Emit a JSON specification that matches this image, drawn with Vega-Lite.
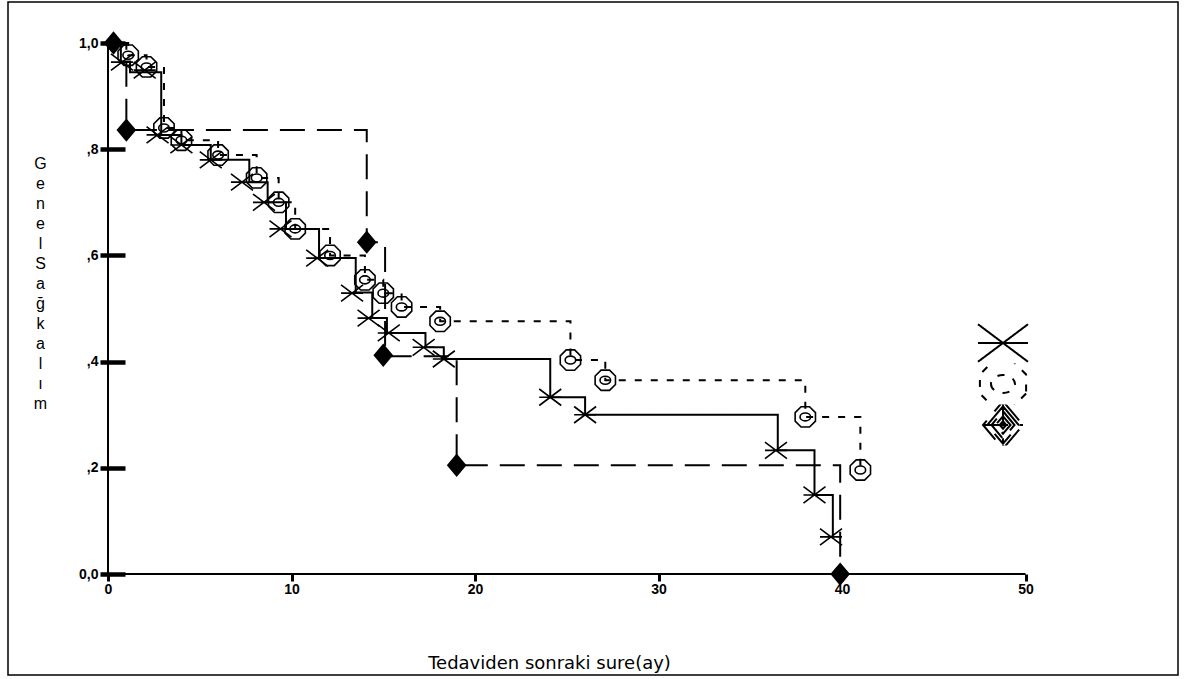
{
  "$schema": "https://vega.github.io/schema/vega-lite/v6.json",
  "width": 1170,
  "height": 673,
  "autosize": {"type": "none"},
  "padding": {"left": 8, "top": 2, "right": 6, "bottom": 4},
  "background": "white",
  "config": {"view": {"stroke": "black", "strokeWidth": 1.5}, "axis": {"grid": false}},
  "datasets": {
    "axisLines": [
      {"t": 0, "t2": 50, "s": 0, "s2": 0},
      {"t": 0, "t2": 0, "s": 0, "s2": 1.0}
    ],
    "curves": [
      {"group": "Tüm olgular", "t": 0, "s": 1.0},
      {"group": "Tüm olgular", "t": 0.7, "s": 0.965},
      {"group": "Tüm olgular", "t": 1.2, "s": 0.945},
      {"group": "Tüm olgular", "t": 2.9, "s": 0.827},
      {"group": "Tüm olgular", "t": 4.0, "s": 0.808},
      {"group": "Tüm olgular", "t": 5.6, "s": 0.78},
      {"group": "Tüm olgular", "t": 7.7, "s": 0.738},
      {"group": "Tüm olgular", "t": 8.7, "s": 0.70},
      {"group": "Tüm olgular", "t": 9.7, "s": 0.65},
      {"group": "Tüm olgular", "t": 11.5, "s": 0.595},
      {"group": "Tüm olgular", "t": 13.5, "s": 0.53},
      {"group": "Tüm olgular", "t": 14.4, "s": 0.482},
      {"group": "Tüm olgular", "t": 15.2, "s": 0.454},
      {"group": "Tüm olgular", "t": 17.3, "s": 0.427},
      {"group": "Tüm olgular", "t": 18.3, "s": 0.405},
      {"group": "Tüm olgular", "t": 24.1, "s": 0.333},
      {"group": "Tüm olgular", "t": 26.0, "s": 0.30},
      {"group": "Tüm olgular", "t": 36.5, "s": 0.233},
      {"group": "Tüm olgular", "t": 38.5, "s": 0.149},
      {"group": "Tüm olgular", "t": 39.5, "s": 0.07},
      {"group": "T>5 cm", "t": 0, "s": 1.0},
      {"group": "T>5 cm", "t": 1.1, "s": 0.977},
      {"group": "T>5 cm", "t": 2.1, "s": 0.955},
      {"group": "T>5 cm", "t": 3.05, "s": 0.84},
      {"group": "T>5 cm", "t": 4.0, "s": 0.817},
      {"group": "T>5 cm", "t": 6.0, "s": 0.789},
      {"group": "T>5 cm", "t": 8.1, "s": 0.746},
      {"group": "T>5 cm", "t": 9.3, "s": 0.70},
      {"group": "T>5 cm", "t": 10.2, "s": 0.65},
      {"group": "T>5 cm", "t": 12.1, "s": 0.60},
      {"group": "T>5 cm", "t": 14.0, "s": 0.554},
      {"group": "T>5 cm", "t": 15.0, "s": 0.529},
      {"group": "T>5 cm", "t": 16.0, "s": 0.503},
      {"group": "T>5 cm", "t": 18.1, "s": 0.476},
      {"group": "T>5 cm", "t": 25.2, "s": 0.403},
      {"group": "T>5 cm", "t": 27.1, "s": 0.365},
      {"group": "T>5 cm", "t": 38.0, "s": 0.296},
      {"group": "T>5 cm", "t": 41.0, "s": 0.196},
      {"group": "T<5 cm", "t": 0, "s": 1.0},
      {"group": "T<5 cm", "t": 1.0, "s": 0.836},
      {"group": "T<5 cm", "t": 14.1, "s": 0.625},
      {"group": "T<5 cm", "t": 15.1, "s": 0.41},
      {"group": "T<5 cm", "t": 19.0, "s": 0.205},
      {"group": "T<5 cm", "t": 39.9, "s": 0.0}
    ],
    "markers": [
      {"series": "Tüm olgular", "t": 0.76, "s": 0.964},
      {"series": "Tüm olgular", "t": 2.0, "s": 0.949},
      {"series": "Tüm olgular", "t": 2.7, "s": 0.827},
      {"series": "Tüm olgular", "t": 4.0, "s": 0.808},
      {"series": "Tüm olgular", "t": 5.6, "s": 0.78},
      {"series": "Tüm olgular", "t": 7.3, "s": 0.738},
      {"series": "Tüm olgular", "t": 8.5, "s": 0.70},
      {"series": "Tüm olgular", "t": 9.4, "s": 0.65},
      {"series": "Tüm olgular", "t": 11.4, "s": 0.595},
      {"series": "Tüm olgular", "t": 13.3, "s": 0.529},
      {"series": "Tüm olgular", "t": 14.2, "s": 0.482},
      {"series": "Tüm olgular", "t": 15.3, "s": 0.454},
      {"series": "Tüm olgular", "t": 17.2, "s": 0.427},
      {"series": "Tüm olgular", "t": 18.3, "s": 0.405},
      {"series": "Tüm olgular", "t": 24.1, "s": 0.333},
      {"series": "Tüm olgular", "t": 26.0, "s": 0.30},
      {"series": "Tüm olgular", "t": 36.4, "s": 0.233},
      {"series": "Tüm olgular", "t": 38.5, "s": 0.149},
      {"series": "Tüm olgular", "t": 39.4, "s": 0.07},
      {"series": "T>5 cm", "t": 1.1, "s": 0.977},
      {"series": "T>5 cm", "t": 2.1, "s": 0.955},
      {"series": "T>5 cm", "t": 3.05, "s": 0.84},
      {"series": "T>5 cm", "t": 4.0, "s": 0.817},
      {"series": "T>5 cm", "t": 6.0, "s": 0.789},
      {"series": "T>5 cm", "t": 8.1, "s": 0.746},
      {"series": "T>5 cm", "t": 9.3, "s": 0.70},
      {"series": "T>5 cm", "t": 10.2, "s": 0.65},
      {"series": "T>5 cm", "t": 12.1, "s": 0.60},
      {"series": "T>5 cm", "t": 14.0, "s": 0.554},
      {"series": "T>5 cm", "t": 15.0, "s": 0.529},
      {"series": "T>5 cm", "t": 16.0, "s": 0.503},
      {"series": "T>5 cm", "t": 18.1, "s": 0.476},
      {"series": "T>5 cm", "t": 25.2, "s": 0.403},
      {"series": "T>5 cm", "t": 27.1, "s": 0.365},
      {"series": "T>5 cm", "t": 38.0, "s": 0.296},
      {"series": "T>5 cm", "t": 41.0, "s": 0.196},
      {"series": "T<5 cm", "t": 0.3, "s": 1.0},
      {"series": "T<5 cm", "t": 1.0, "s": 0.836},
      {"series": "T<5 cm", "t": 14.1, "s": 0.625},
      {"series": "T<5 cm", "t": 15.0, "s": 0.412},
      {"series": "T<5 cm", "t": 19.0, "s": 0.205},
      {"series": "T<5 cm", "t": 39.9, "s": 0.0}
    ]
  },
  "encoding": {
    "x": {
      "field": "t", "type": "quantitative",
      "scale": {"domain": [-5.45, 58.31], "nice": false, "zero": false},
      "axis": {
        "values": [0, 10, 20, 30, 40, 50],
        "offset": -101,
        "domain": false,
        "tickSize": 7, "tickWidth": 3, "tickColor": "black",
        "labelFont": "Liberation Sans", "labelFontWeight": "bold", "labelFontSize": 14, "labelColor": "black", "labelPadding": 1,
        "title": "Tedaviden sonraki sure(ay)",
        "titleX": 541, "titleY": 89, "titleAlign": "center", "titleBaseline": "middle",
        "titleFont": "DejaVu Sans", "titleFontSize": 18, "titleFontWeight": "normal", "titleColor": "black"
      }
    },
    "y": {
      "field": "s", "type": "quantitative",
      "scale": {"domain": [-0.19, 1.0772], "nice": false, "zero": false},
      "axis": {
        "values": [0, 0.2, 0.4, 0.6, 0.8, 1],
        "labelExpr": "datum.value == 0 ? '0,0' : datum.value == 1 ? '1,0' : ',' + round(datum.value * 10)",
        "offset": -117,
        "domain": false,
        "tickSize": 25, "tickWidth": 4.5, "tickColor": "black",
        "labelFont": "Liberation Sans", "labelFontWeight": "bold", "labelFontSize": 14, "labelColor": "black", "labelPadding": 2,
        "title": ["G", "e", "n", "e", "l", " ", " ", "S", "a", "ğ", "k", "a", "l", "ı", "m"],
        "titleAngle": 0, "titleX": -85, "titleY": 161, "titleAlign": "center", "titleBaseline": "middle",
        "titleLineHeight": 20,
        "titleFont": "Liberation Sans", "titleFontSize": 16, "titleFontWeight": "normal", "titleColor": "black"
      }
    }
  },
  "layer": [
    {
      "data": {"name": "axisLines"},
      "mark": {"type": "rule", "color": "black", "strokeWidth": 2},
      "encoding": {
        "x2": {"field": "t2"},
        "y2": {"field": "s2"}
      }
    },
    {
      "data": {"name": "curves"},
      "mark": {"type": "line", "interpolate": "step-after", "color": "black", "strokeWidth": 2},
      "encoding": {
        "detail": {"field": "group", "type": "nominal"},
        "strokeDash": {
          "field": "group", "type": "nominal",
          "scale": {"domain": ["Tüm olgular", "T>5 cm", "T<5 cm"], "range": [[1, 0], [7, 9], [25, 12]]},
          "legend": {
            "orient": "none", "legendX": 969, "legendY": 320.5,
            "title": null, "padding": 0,
            "symbolType": "stroke", "symbolSize": 2500, "symbolStrokeWidth": 2, "symbolStrokeColor": "black",
            "labelFontSize": 22, "labelOpacity": 0, "labelOffset": 20,
            "clipHeight": 41, "rowPadding": 0
          }
        }
      }
    },
    {
      "data": {"name": "markers"},
      "transform": [{"filter": "datum.series !== 'T<5 cm'"}],
      "mark": {"type": "point", "filled": false, "stroke": "black", "strokeWidth": 1.6, "size": 484, "opacity": 1},
      "encoding": {
        "shape": {
          "field": "series", "type": "nominal",
          "scale": {
            "domain": ["Tüm olgular", "T>5 cm", "T<5 cm"],
            "range": [
              "M-1,-0.75L1,0.75M-1,0.75L1,-0.75M-1,0L1,0",
              "M0.924,0.383L0.383,0.924L-0.383,0.924L-0.924,0.383L-0.924,-0.383L-0.383,-0.924L0.383,-0.924L0.924,-0.383ZM-0.48,0A0.48,0.36 0 1,0 0.48,0A0.48,0.36 0 1,0 -0.48,0Z",
              "M0,-0.95L0.8,0L0,0.95L-0.8,0ZM0,-0.75L0.63,0L0,0.75L-0.63,0ZM0,-0.55L0.46,0L0,0.55L-0.46,0ZM0,-0.35L0.3,0L0,0.35L-0.3,0ZM0,-0.15L0.13,0L0,0.15L-0.13,0ZM0,-0.95L0,0.95M-0.8,0L0.8,0"
            ]
          },
          "legend": {
            "orient": "none", "legendX": 981, "legendY": 340.5,
            "title": null, "padding": 0,
            "symbolSize": 484, "symbolStrokeWidth": 1.6, "symbolStrokeColor": "black",
            "labelFont": "Liberation Sans", "labelFontSize": 22, "labelColor": "black", "labelOffset": 29,
            "clipHeight": 41, "rowPadding": 0
          }
        }
      }
    },
    {
      "data": {"name": "markers"},
      "transform": [{"filter": "datum.series === 'T<5 cm'"}],
      "mark": {"type": "point", "filled": true, "fill": "black", "stroke": "black", "strokeWidth": 1.6, "size": 484, "opacity": 1},
      "encoding": {
        "shape": {"field": "series", "type": "nominal"}
      }
    }
  ]
}
